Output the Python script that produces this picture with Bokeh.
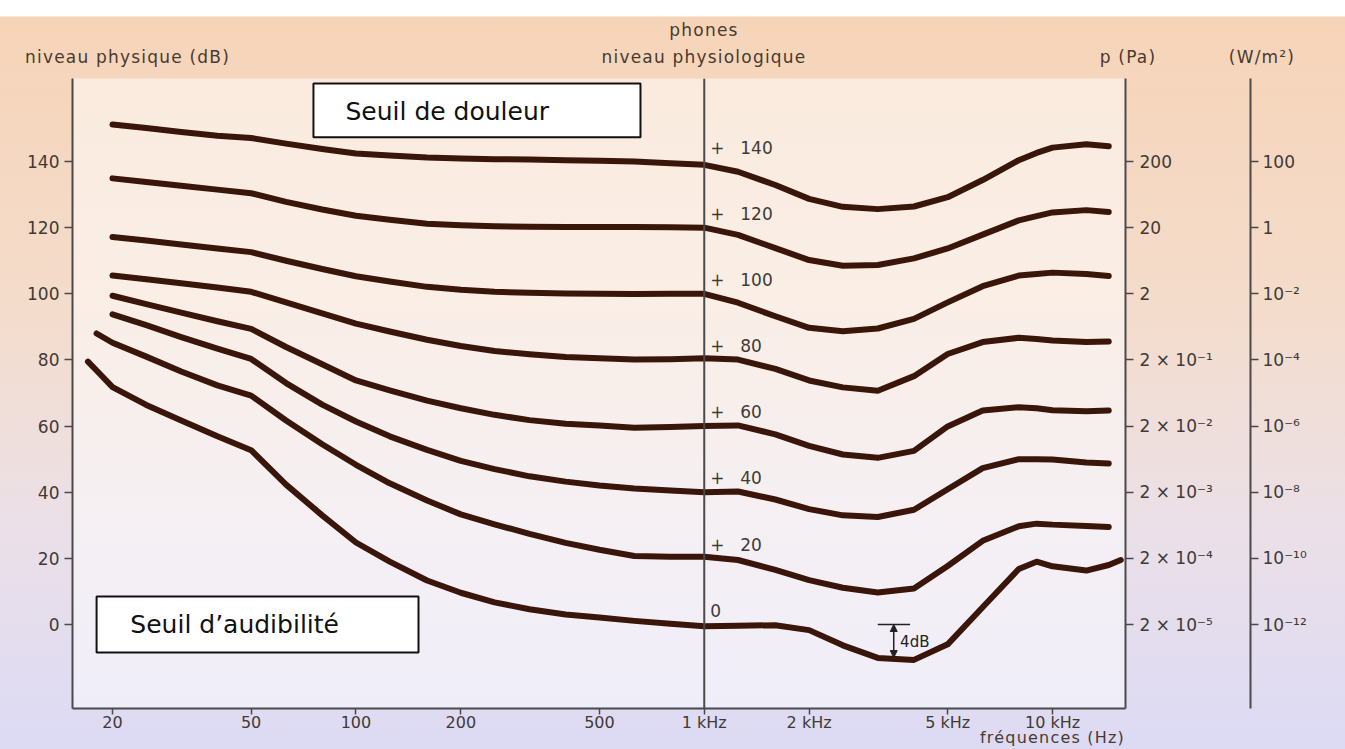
import math
from bokeh.plotting import figure
from bokeh.layouts import column
from bokeh.models import (Range1d, LinearAxis, FixedTicker, Span, BoxAnnotation, Label,
                          Arrow, NormalHead, ColumnDataSource, Div)
from bokeh.core.properties import value
from bokeh.embed import file_html
from bokeh.resources import INLINE

nan = float("nan")

# ---------------- data ----------------
freq_hz = [17, 18, 20, 25, 31.5, 40, 50, 63, 80, 100,
           125, 160, 200, 250, 315, 400, 500, 630, 800, 1000,
           1250, 1600, 2000, 2500, 3150, 4000, 5000, 6300, 8000, 9000,
           10000, 12500, 14500, 15700]

phon_140 = [nan, nan, 151.2, 150.1, 148.9, 147.8, 147.1, 145.4, 143.8, 142.4,
            141.8, 141.2, 140.9, 140.7, 140.6, 140.4, 140.2, 140.0, 139.5, 139.0,
            136.9, 132.9, 128.7, 126.3, 125.6, 126.4, 129.2, 134.4, 140.4, 142.6,
            144.2, 145.2, 144.6, nan]
phon_120 = [nan, nan, 134.9, 133.8, 132.7, 131.5, 130.4, 127.8, 125.5, 123.6,
            122.4, 121.2, 120.7, 120.4, 120.3, 120.2, 120.2, 120.2, 120.1, 120.0,
            117.8, 113.8, 110.2, 108.5, 108.7, 110.7, 113.7, 117.9, 122.2, 123.5,
            124.6, 125.3, 124.7, nan]
phon_100 = [nan, nan, 117.2, 116.1, 114.9, 113.7, 112.6, 110.0, 107.5, 105.3,
            103.7, 102.1, 101.2, 100.6, 100.3, 100.1, 100.0, 99.9, 100.0, 100.0,
            97.3, 93.2, 89.7, 88.7, 89.5, 92.4, 97.4, 102.3, 105.5, 106.0,
            106.4, 106.0, 105.4, nan]
phon_80 = [nan, nan, 105.5, 104.4, 103.2, 101.9, 100.6, 97.4, 94.1, 91.0,
           88.6, 86.1, 84.2, 82.7, 81.7, 80.9, 80.5, 80.1, 80.2, 80.5,
           80.1, 77.3, 73.8, 71.7, 70.7, 75.1, 81.8, 85.4, 86.7, 86.3,
           85.9, 85.4, 85.6, nan]
phon_60 = [nan, nan, 99.4, 96.9, 94.3, 91.7, 89.4, 83.9, 78.7, 73.8,
           70.8, 67.7, 65.4, 63.4, 61.8, 60.7, 60.2, 59.5, 59.7, 60.0,
           60.2, 57.5, 54.0, 51.4, 50.4, 52.5, 59.9, 64.7, 65.7, 65.4,
           64.8, 64.5, 64.7, nan]
phon_40 = [nan, nan, 93.8, 90.5, 86.9, 83.4, 80.3, 73.0, 66.5, 61.4,
           56.9, 52.8, 49.5, 47.0, 44.8, 43.2, 42.0, 41.1, 40.5, 40.0,
           40.2, 37.8, 34.9, 33.0, 32.5, 34.7, 40.9, 47.3, 50.0, 50.0,
           49.9, 49.0, 48.7, nan]
phon_20 = [nan, 88.0, 85.2, 81.0, 76.5, 72.3, 69.2, 61.7, 54.5, 48.3,
           42.7, 37.5, 33.3, 30.3, 27.4, 24.7, 22.6, 20.7, 20.5, 20.5,
           19.5, 16.5, 13.4, 11.1, 9.7, 10.9, 17.7, 25.3, 29.7, 30.5,
           30.2, 29.8, 29.5, nan]
phon_0 = [79.5, 76.8, 71.8, 66.4, 61.7, 56.9, 52.7, 42.3, 33.0, 24.8,
          19.0, 13.3, 9.6, 6.7, 4.6, 3.0, 2.1, 1.1, 0.2, -0.5,
          -0.4, -0.2, -1.7, -6.3, -10.1, -10.7, -6.0, 5.2, 16.8, 19.0,
          17.6, 16.3, 18.0, 19.5]

phon_levels = [140, 120, 100, 80, 60, 40, 20, 0]
curves = [phon_140, phon_120, phon_100, phon_80, phon_60, phon_40, phon_20, phon_0]
phon_texts = ["140", "120", "100", "80", "60", "40", "20", "0"]

x_ticks = [20, 50, 100, 200, 500, 1000, 2000, 5000, 10000]
x_tick_labels = ["20", "50", "100", "200", "500", "1 kHz", "2 kHz", "5 kHz", "10 kHz"]

db_ticks = [0, 20, 40, 60, 80, 100, 120, 140]
pa_labels = ["2 × 10⁻⁵", "2 × 10⁻⁴", "2 × 10⁻³", "2 × 10⁻²", "2 × 10⁻¹", "2", "20", "200"]
wm2_labels = ["10⁻¹²", "10⁻¹⁰", "10⁻⁸", "10⁻⁶", "10⁻⁴", "10⁻²", "1", "100"]

# ---------------- figure ----------------
FONT = "DejaVu Sans"
TXT = "#3f3a36"
AX = "#4a4a4a"
CURVE = "#3a1509"

p = figure(x_axis_type="log", x_range=Range1d(15.35, 16200), y_range=Range1d(-25.4, 165.1),
           frame_width=1053, frame_height=630, output_backend="svg", toolbar_location=None,
           min_border_left=72, min_border_top=0, min_border_bottom=23, min_border_right=0)

p.border_fill_color = None
p.background_fill_color = "#ffffff"
p.background_fill_alpha = 0.5
p.outline_line_color = None
p.grid.visible = False

def style_axis(ax):
    ax.axis_line_color = AX
    ax.axis_line_width = 2
    ax.major_tick_line_color = AX
    ax.major_tick_line_width = 1.5
    ax.major_tick_out = 8
    ax.major_tick_in = 0
    ax.minor_tick_line_color = None
    ax.major_label_text_font = FONT
    ax.major_label_text_font_size = "17px"
    ax.major_label_text_color = TXT

xa = p.xaxis[0]
xa.ticker = FixedTicker(ticks=x_ticks)
xa.major_label_overrides = {t: l for t, l in zip(x_ticks, x_tick_labels)}
style_axis(xa)
xa.major_label_text_font_size = "16px"
xa.major_tick_out = 6
xa.major_label_standoff = -2

ya = p.yaxis[0]
ya.ticker = FixedTicker(ticks=db_ticks)
style_axis(ya)
ya.major_label_standoff = 5

ax_pa = LinearAxis(ticker=FixedTicker(ticks=db_ticks),
                   major_label_overrides={t: l for t, l in zip(db_ticks, pa_labels)})
style_axis(ax_pa)
ax_pa.major_label_standoff = 6
ax_pa.axis_label = "\u00a0"
ax_pa.axis_label_text_font_size = "14px"
ax_pa.axis_label_standoff = 16
p.add_layout(ax_pa, "right")

ax_w = LinearAxis(ticker=FixedTicker(ticks=db_ticks),
                  major_label_overrides={t: l for t, l in zip(db_ticks, wm2_labels)})
style_axis(ax_w)
ax_w.major_label_standoff = 4
p.add_layout(ax_w, "right")

# 1 kHz reference line
p.add_layout(Span(location=1000, dimension="height", line_color=AX, line_width=2))

# equal-loudness curves
for vals in curves:
    xs = [f for f, v in zip(freq_hz, vals) if not math.isnan(v)]
    ys = [v for v in vals if not math.isnan(v)]
    src = ColumnDataSource(dict(x=xs, y=ys))
    p.line("x", "y", source=src, line_color=CURVE, line_width=6,
           line_cap="round", line_join="round")

# phon labels next to the 1 kHz line
lab_src = ColumnDataSource(dict(
    x=[1000] * len(phon_levels),
    y=[lv + 4.3 for lv in phon_levels],
    plus=["+" if lv > 0 else "" for lv in phon_levels],
    num=[t if lv > 0 else "" for t, lv in zip(phon_texts, phon_levels)],
    zero=["" if lv > 0 else t for t, lv in zip(phon_texts, phon_levels)],
))
common = dict(source=lab_src, text_font=value(FONT), text_font_size="17px",
              text_color=TXT, text_baseline="middle", text_align="left")
p.text(x="x", y="y", text="plus", x_offset=6, **common)
p.text(x="x", y="y", text="num", x_offset=36, **common)
p.text(x="x", y="y", text="zero", x_offset=6, **common)

# boxed captions
p.add_layout(BoxAnnotation(left=75.5, right=656, bottom=147.3, top=163.6,
                           fill_color="white", fill_alpha=1,
                           line_color="#111111", line_alpha=1, line_width=2))
p.add_layout(Label(x=93.3, y=155.2, text="Seuil de douleur", text_font=FONT,
                   text_font_size="25px", text_color="#111111", text_baseline="middle"))
p.add_layout(BoxAnnotation(left=18.0, right=151.2, bottom=-8.5, top=8.5,
                           fill_color="white", fill_alpha=1,
                           line_color="#111111", line_alpha=1, line_width=2))
p.add_layout(Label(x=22.5, y=-0.1, text="Seuil d\u2019audibilité", text_font=FONT,
                   text_font_size="25px", text_color="#111111", text_baseline="middle"))

# 4 dB marker
p.segment(x0=[3150], y0=[0], x1=[3900], y1=[0], line_color="#222222", line_width=1.5)
p.add_layout(Arrow(x_start=3500, y_start=0, x_end=3500, y_end=-10.0,
                   start=NormalHead(size=7, fill_color="#222222", line_color="#222222"),
                   end=NormalHead(size=7, fill_color="#222222", line_color="#222222"),
                   line_color="#222222", line_width=1.5))
p.add_layout(Label(x=3650, y=-5.2, text="4dB", text_font=FONT, text_font_size="15px",
                   text_color="#222222", text_baseline="middle"))

# ---------------- titles around the chart ----------------
span_css = ("position:absolute;white-space:nowrap;font-family:'DejaVu Sans';"
            "font-size:17px;line-height:18px;letter-spacing:1.2px;color:#4a3a2e;")

def span(x, y, text, center=True):
    shift = "transform:translateX(-50%);" if center else ""
    return f'<span style="{span_css}left:{x}px;top:{y - 9}px;{shift}">{text}</span>'

top_html = ('<div style="position:relative;width:1345px;height:78px;">'
            + span(25, 57, "niveau physique (dB)", center=False)
            + span(704, 30, "phones")
            + span(704, 57, "niveau physiologique")
            + span(1128, 57, "p (Pa)")
            + span(1262, 57, "(W/m²)")
            + '</div>')
bottom_html = ('<div style="position:relative;width:1345px;height:18px;">'
               + f'<span style="{span_css}font-size:16px;right:220px;top:-5px;">'
               + 'fréquences (Hz)</span></div>')

top_div = Div(text=top_html, width=1345, height=78, margin=0)
bottom_div = Div(text=bottom_html, width=1345, height=18, margin=0)
p.margin = 0

layout = column(top_div, p, bottom_div, spacing=0, margin=0)
layout.styles = {"background": "linear-gradient(180deg, #ffffff 0px, #ffffff 16px, "
                               "#f6d4b8 17px, #f4dccb 40%, #ebe0e8 70%, #dcdaf4 100%)",
                 "overflow": "visible"}

open("out.html", "w").write(file_html(layout, INLINE))
